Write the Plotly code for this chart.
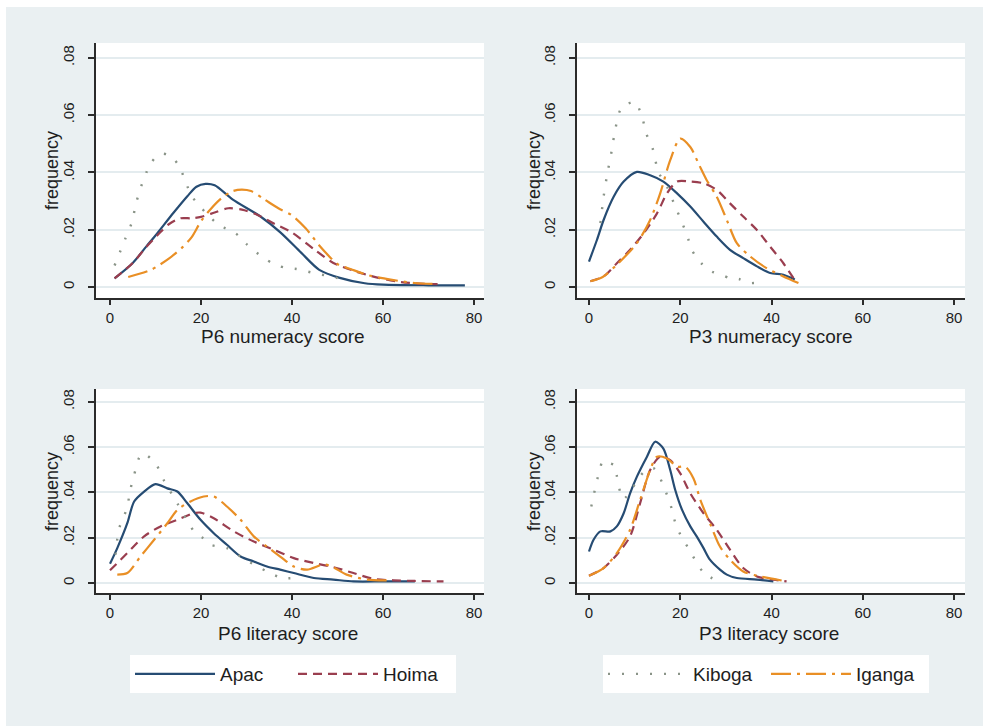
import plotly.graph_objects as go

# ---------------- data ----------------
districts = ["Apac", "Hoima", "Kiboga", "Iganga"]
y_tick_vals = [0, 0.02, 0.04, 0.06, 0.08]
y_tick_text = ["0", ".02", ".04", ".06", ".08"]
x_tick_vals = [0, 20, 40, 60, 80]
x_tick_text = ["0", "20", "40", "60", "80"]
panel_titles = ["P6 numeracy score", "P3 numeracy score", "P6 literacy score", "P3 literacy score"]

# P6 numeracy
p6num_apac_x = [1, 5, 8, 10, 14, 17, 19, 21, 23, 27, 33, 37.5, 42, 46, 50.5, 56, 60, 70, 78]
p6num_apac_y = [0.003, 0.0084, 0.0142, 0.018, 0.026, 0.0317, 0.035, 0.036, 0.0355, 0.0305, 0.0247,
                0.019, 0.012, 0.006, 0.0032, 0.0013, 0.0008, 0.0006, 0.0006]
p6num_hoima_x = [1, 5, 8, 11, 13, 15.5, 18, 20, 23, 26, 29, 32, 36, 40, 45, 49, 53.5, 59, 64, 68, 72]
p6num_hoima_y = [0.003, 0.0084, 0.014, 0.019, 0.022, 0.024, 0.024, 0.0245, 0.026, 0.0275, 0.027,
                 0.0255, 0.0222, 0.019, 0.013, 0.0085, 0.0057, 0.0032, 0.0017, 0.0012, 0.001]
p6num_kiboga_x = [1, 3.4, 4.8, 5.7, 6.6, 8, 9, 11, 13, 15, 18, 21, 24, 27.5, 30, 33.3, 36.3, 39, 41,
                  44.7, 48.4, 50, 52]
p6num_kiboga_y = [0.0075, 0.017, 0.0226, 0.029, 0.034, 0.04, 0.0433, 0.0465, 0.046, 0.0427, 0.0317,
                  0.026, 0.0216, 0.0189, 0.015, 0.0107, 0.0078, 0.0066, 0.0063, 0.0049, 0.0037, 0.0031, 0.0016]
p6num_iganga_x = [4, 9, 13, 16, 18, 20, 22, 24.5, 27, 29, 31, 34, 37, 40, 43, 46, 48, 50, 53, 57, 62, 67, 72]
p6num_iganga_y = [0.0035, 0.006, 0.01, 0.014, 0.0175, 0.023, 0.027, 0.031, 0.0335, 0.034, 0.0335,
                  0.0305, 0.0275, 0.025, 0.0205, 0.0145, 0.011, 0.008, 0.0062, 0.004, 0.0025, 0.0014, 0.001]

# P3 numeracy
p3num_apac_x = [0, 1.75, 3.2, 5.4, 7.6, 10.5, 13.4, 16.3, 19.3, 22.2, 25.1, 28, 30.9, 33.8, 36.8,
                39.7, 42.6, 45.1]
p3num_apac_y = [0.0089, 0.0165, 0.0234, 0.0315, 0.0368, 0.0402, 0.039, 0.0368, 0.0327, 0.0281, 0.0228,
                0.0176, 0.013, 0.0101, 0.0072, 0.0049, 0.0043, 0.0026]
p3num_hoima_x = [0.3, 3.2, 6.1, 9, 12, 14.9, 17.1, 19.3, 22.2, 25.1, 28, 30.9, 33.8, 36.8, 39.7, 42.6, 45.5]
p3num_hoima_y = [0.002, 0.0037, 0.0083, 0.013, 0.0188, 0.0257, 0.0327, 0.0368, 0.0368, 0.0362, 0.0339,
                 0.0292, 0.0246, 0.0199, 0.0141, 0.0083, 0.0014]
p3num_kiboga_x = [2.5, 3.2, 3.9, 5, 5.6, 6.9, 8.5, 10.1, 11.6, 12.5, 14, 15.2, 17.1, 18.9, 20.4, 21.8,
                  22.5, 24.5, 26.9, 29, 31.3, 32.8, 34.9, 36.4]
p3num_kiboga_y = [0.0223, 0.0315, 0.0385, 0.0478, 0.0536, 0.0619, 0.064, 0.0646, 0.0596, 0.0538, 0.0481,
                  0.0402, 0.035, 0.0281, 0.0225, 0.0165, 0.013, 0.0085, 0.0054, 0.0043, 0.0028, 0.0028,
                  0.0014, 0.0014]
p3num_iganga_x = [0.3, 3, 6.1, 10.5, 13.4, 15.6, 17.8, 20, 22.2, 24, 25.8, 28, 30.2, 32.4, 35.3, 38.9,
                  42.6, 45.9]
p3num_iganga_y = [0.002, 0.0035, 0.0078, 0.0153, 0.0234, 0.0327, 0.0443, 0.0518, 0.0489, 0.0431, 0.0373,
                  0.0315, 0.0234, 0.0153, 0.0107, 0.0066, 0.0037, 0.0014]

# P6 literacy
p6lit_apac_x = [0, 1.6, 3.8, 5.3, 7.5, 10, 12.6, 14.8, 17, 19.9, 22.8, 25.7, 28.7, 31.6, 34.5, 37.4,
                40.4, 44.8, 49.1, 53.5, 60, 67]
p6lit_apac_y = [0.0085, 0.0154, 0.0264, 0.036, 0.0404, 0.0437, 0.0418, 0.0404, 0.0352, 0.0279, 0.022,
                0.0169, 0.0117, 0.0095, 0.0073, 0.0059, 0.0044, 0.0022, 0.0015, 0.0007, 0.0007, 0.0007]
p6lit_hoima_x = [0, 3.8, 7.5, 11.1, 14.8, 18.4, 19.9, 22.8, 27.2, 31.6, 36, 40.4, 44.8, 49.1, 53.5,
                 57.9, 62.3, 67, 73.3]
p6lit_hoima_y = [0.0056, 0.0132, 0.0206, 0.025, 0.0279, 0.0308, 0.0311, 0.0286, 0.0228, 0.0183, 0.0147,
                 0.011, 0.0088, 0.007, 0.0044, 0.0018, 0.0012, 0.0009, 0.0007]
p6lit_kiboga_x = [1.2, 2, 3.7, 4.5, 5.3, 6.4, 7.3, 10, 11.8, 13.7, 14.8, 16.8, 18.8, 21, 22.1, 25.7,
                  30, 34.5, 37.8, 40.4]
p6lit_kiboga_y = [0.0125, 0.024, 0.033, 0.0415, 0.0477, 0.0553, 0.0572, 0.0528, 0.0455, 0.0389, 0.0352,
                  0.028, 0.022, 0.0191, 0.0169, 0.0154, 0.01, 0.0051, 0.0022, 0.0022]
p6lit_iganga_x = [1.6, 3.8, 6.7, 9.7, 12.6, 14.8, 17.7, 20.6, 22.8, 25.7, 28.7, 31.6, 34.5, 37.4, 40.4,
                  43.3, 47, 49, 52, 56.5, 60.8]
p6lit_iganga_y = [0.0037, 0.0044, 0.0117, 0.0191, 0.0264, 0.0323, 0.036, 0.0382, 0.0382, 0.0338, 0.0279,
                  0.0206, 0.0161, 0.0117, 0.0073, 0.0059, 0.0082, 0.007, 0.0037, 0.0015, 0.0012]

# P3 literacy
p3lit_apac_x = [0, 1, 2.5, 4.7, 6.1, 7.6, 9, 10.5, 12.7, 14.5, 16.3, 17.8, 18.9, 20.4, 22.2, 23.6,
                25.1, 26.5, 28.7, 30.2, 32.4, 36.8, 40.4]
p3lit_apac_y = [0.0139, 0.0191, 0.0228, 0.0228, 0.025, 0.0308, 0.0396, 0.047, 0.0558, 0.0624, 0.0594,
                0.0499, 0.0411, 0.0323, 0.025, 0.0206, 0.0154, 0.0103, 0.0059, 0.0037, 0.0022, 0.0015, 0.0007]
p3lit_hoima_x = [0, 3.2, 6.1, 9, 11.2, 13.4, 15.6, 17.8, 20, 22.2, 25.1, 28, 30.9, 33.8, 36.8, 40.4, 43.3]
p3lit_hoima_y = [0.0032, 0.0066, 0.0125, 0.0206, 0.0352, 0.0499, 0.0558, 0.0543, 0.0484, 0.0396, 0.0308,
                 0.0235, 0.0147, 0.0066, 0.0029, 0.0015, 0.0007]
p3lit_kiboga_x = [0.5, 1.6, 2.5, 3, 4.5, 5.8, 6.1, 7.5, 9.5, 12, 14.2, 17.1, 18.2, 18.9, 20.4, 21.8,
                  24.9, 28.2]
p3lit_kiboga_y = [0.0338, 0.044, 0.0511, 0.0539, 0.053, 0.0517, 0.0473, 0.037, 0.042, 0.049, 0.0506,
                  0.0389, 0.0323, 0.0267, 0.0198, 0.0154, 0.0051, 0.0007]
p3lit_iganga_x = [0, 3.2, 6.1, 9, 11.2, 13.4, 14.9, 17.1, 19.3, 21.1, 22.9, 24.4, 26.5, 28.7, 30.9,
                  33.8, 36.8, 40.4, 43.3]
p3lit_iganga_y = [0.0032, 0.0066, 0.0132, 0.0235, 0.0367, 0.0499, 0.0558, 0.055, 0.0514, 0.0514, 0.0462,
                  0.0367, 0.0264, 0.0161, 0.0103, 0.0051, 0.0032, 0.0018, 0.0007]

panels_data = [
    [(p6num_apac_x, p6num_apac_y), (p6num_hoima_x, p6num_hoima_y),
     (p6num_kiboga_x, p6num_kiboga_y), (p6num_iganga_x, p6num_iganga_y)],
    [(p3num_apac_x, p3num_apac_y), (p3num_hoima_x, p3num_hoima_y),
     (p3num_kiboga_x, p3num_kiboga_y), (p3num_iganga_x, p3num_iganga_y)],
    [(p6lit_apac_x, p6lit_apac_y), (p6lit_hoima_x, p6lit_hoima_y),
     (p6lit_kiboga_x, p6lit_kiboga_y), (p6lit_iganga_x, p6lit_iganga_y)],
    [(p3lit_apac_x, p3lit_apac_y), (p3lit_hoima_x, p3lit_hoima_y),
     (p3lit_kiboga_x, p3lit_kiboga_y), (p3lit_iganga_x, p3lit_iganga_y)],
]

# ---------------- styling ----------------
W, H = 987, 727
FONT = "Liberation Sans, Arial, sans-serif"
TEXT = "#1e1e1e"
BG = "#eaf0f2"
AXIS = "#2b2b2b"
GRID = "#e4ecef"

styles = [
    dict(color="#264c73", width=2.2, dash="solid"),
    dict(color="#9a3e4f", width=2.2, dash="9px,6px"),
    dict(color="#8a9488", width=2.4, dash="2px,12px"),
    dict(color="#e98f25", width=2.2, dash="20px,6px,3px,6px"),
]
legend_of = ["legend", "legend", "legend2", "legend2"]


def fx(px):
    return px / W


def fy(py):
    return 1 - py / H


# pixel geometry of each panel: (left, right, top, bottom), x range, y range, title centres
panel_geom = [
    dict(l=96, r=484, t=43, b=298, xr=[-3.08, 82.2], yr=[-0.00384, 0.0852], xt=(283, 337), yt=(52, 171)),
    dict(l=577, r=965, t=43, b=298, xr=[-2.63, 82.4], yr=[-0.00384, 0.0852], xt=(771, 337), yt=(534, 171)),
    dict(l=96, r=484, t=389, b=593, xr=[-3.08, 82.2], yr=[-0.00442, 0.0857], xt=(288, 633), yt=(52, 492)),
    dict(l=577, r=965, t=389, b=593, xr=[-2.63, 82.4], yr=[-0.00442, 0.0857], xt=(769, 633), yt=(534, 492)),
]

fig = go.Figure()

for p, data in enumerate(panels_data):
    sfx = "" if p == 0 else str(p + 1)
    for k, (xs, ys) in enumerate(data):
        fig.add_trace(go.Scatter(
            x=xs, y=ys, mode="lines", name=districts[k],
            line=dict(shape="spline", smoothing=0.8, **styles[k]),
            xaxis="x" + sfx, yaxis="y" + sfx,
            legend=legend_of[k], showlegend=(p == 0),
            hoverinfo="skip",
        ))

annotations = []
for p, g in enumerate(panel_geom):
    sfx = "" if p == 0 else str(p + 1)
    xa = dict(
        domain=[fx(g["l"]), fx(g["r"])], range=g["xr"], anchor="y" + sfx,
        tickmode="array", tickvals=x_tick_vals, ticktext=x_tick_text,
        ticks="outside", ticklen=5, tickwidth=1.6, tickcolor=AXIS,
        showline=True, linecolor=AXIS, linewidth=2, showgrid=False, zeroline=False,
        tickfont=dict(family=FONT, size=15, color=TEXT), ticklabelstandoff=0,
        fixedrange=True,
    )
    ya = dict(
        domain=[fy(g["b"]), fy(g["t"])], range=g["yr"], anchor="x" + sfx,
        tickmode="array", tickvals=y_tick_vals, ticktext=y_tick_text, tickangle=-90,
        ticks="outside", ticklen=6, tickwidth=1.6, tickcolor=AXIS,
        showline=True, linecolor=AXIS, linewidth=2, showgrid=True, gridcolor=GRID, gridwidth=1.5,
        zeroline=False, tickfont=dict(family=FONT, size=15, color=TEXT), ticklabelstandoff=8,
        fixedrange=True,
    )
    fig.update_layout(**{"xaxis" + sfx: xa, "yaxis" + sfx: ya})
    annotations.append(dict(
        text=panel_titles[p], x=fx(g["xt"][0]), y=fy(g["xt"][1]), xref="paper", yref="paper",
        xanchor="center", yanchor="middle", showarrow=False,
        font=dict(family=FONT, size=19, color=TEXT)))
    annotations.append(dict(
        text="frequency", x=fx(g["yt"][0]), y=fy(g["yt"][1]), xref="paper", yref="paper",
        xanchor="center", yanchor="middle", showarrow=False, textangle=-90,
        font=dict(family=FONT, size=18, color=TEXT)))

shapes = [
    # light grey-blue graph region
    dict(type="rect", xref="paper", yref="paper", x0=fx(6), x1=fx(983), y0=fy(726), y1=fy(7),
         fillcolor=BG, line=dict(width=0), layer="below"),
]
# white plot regions
for g in panel_geom:
    shapes.append(dict(type="rect", xref="paper", yref="paper", x0=fx(g["l"]), x1=fx(g["r"]),
                       y0=fy(g["b"]), y1=fy(g["t"]), fillcolor="white", line=dict(width=0),
                       layer="below"))

legend_common = dict(
    orientation="h", bgcolor="white", borderwidth=0,
    font=dict(family=FONT, size=19, color=TEXT),
    xanchor="left", yanchor="top", entrywidth=68, itemwidth=80,
    tracegroupgap=0, itemclick=False, itemdoubleclick=False,
)

fig.update_layout(
    width=W, height=H,
    margin=dict(l=0, r=0, t=0, b=0),
    paper_bgcolor="white", plot_bgcolor="rgba(0,0,0,0)",
    showlegend=True,
    shapes=shapes, annotations=annotations,
    legend=dict(x=fx(130), y=fy(655), **legend_common),
    legend2=dict(x=fx(603), y=fy(655), **legend_common),
)

fig.write_html("out.html", config={"displayModeBar": False},
               post_script="document.body.style.margin='0px';")
